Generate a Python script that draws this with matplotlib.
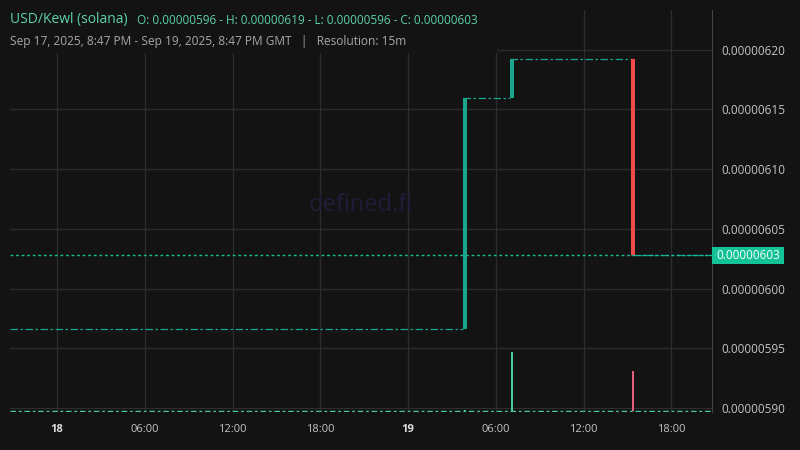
"""USD/Kewl (solana) 15m chart, dark theme, recreated with matplotlib."""

from datetime import datetime

import matplotlib

matplotlib.use("Agg")
import matplotlib.dates as mdates
import matplotlib.pyplot as plt
from matplotlib.patches import Rectangle
from matplotlib.ticker import FixedLocator, FuncFormatter

plt.rcParams["font.family"] = ["Open Sans", "DejaVu Sans"]

BG = "#131313"
GRID = "#2c2c2c"
UP = "#1aa68c"
DOWN = "#f04b4b"
UP_VOL = "#4cc8a0"
DOWN_VOL = "#e2607a"
LAST = "#13c296"

# window shown
T_START = datetime(2025, 9, 17, 20, 47)
T_END = datetime(2025, 9, 19, 20, 47)

# the three traded 15m candles
candle_times = [datetime(2025, 9, 19, 3, 45), datetime(2025, 9, 19, 7, 0),
                datetime(2025, 9, 19, 15, 15)]
opens = [5.966e-6, 6.16e-6, 6.1925e-6]
closes = [6.16e-6, 6.1925e-6, 6.028e-6]
volumes = [0.1, 5.9, 4.0]

y_ticks = [5.90e-6, 5.95e-6, 6.00e-6, 6.05e-6, 6.10e-6, 6.15e-6, 6.20e-6]
x_ticks = [datetime(2025, 9, 18, 0), datetime(2025, 9, 18, 6), datetime(2025, 9, 18, 12),
           datetime(2025, 9, 18, 18), datetime(2025, 9, 19, 0), datetime(2025, 9, 19, 6),
           datetime(2025, 9, 19, 12), datetime(2025, 9, 19, 18)]
x_labels = ["18", "06:00", "12:00", "18:00", "19", "06:00", "12:00", "18:00"]
last_price = 6.028e-6
last_label = "0.00000603"

W, H = 800, 450
fig = plt.figure(figsize=(8, 4.5), dpi=100, facecolor=BG)
ax = fig.add_axes([10 / W, 1 - 412 / H, 702 / W, 402 / H])
ax.set_facecolor(BG)

# volume overlay (twinx first: it moves the price ticks to the left)
vax = ax.twinx()
vax.set_ylim(-0.1, 40.1)
vax.axis("off")

ax.set_xlim(mdates.date2num(T_START), mdates.date2num(T_END))
ax.set_ylim(5.8967e-6, 6.2333e-6)
ax.xaxis.set_major_locator(FixedLocator(mdates.date2num(x_ticks)))
ax.xaxis.set_major_formatter(FuncFormatter(lambda v, p: x_labels[p] if p is not None and p < len(x_labels) else ""))
ax.yaxis.set_major_locator(FixedLocator(y_ticks))
ax.yaxis.set_major_formatter(FuncFormatter(lambda v, p: f"{v:.8f}"))
ax.yaxis.tick_right()
ax.grid(True, color=GRID, linewidth=1.0, zorder=0)
ax.set_axisbelow(True)
for side in ("top", "left", "bottom"):
    ax.spines[side].set_visible(False)
ax.spines["right"].set_color("#444444")
ax.tick_params(axis="both", length=0, colors="#c4c4c4")
ax.tick_params(axis="y", pad=7, labelsize=8.5, labelright=True, labelleft=False)
ax.tick_params(axis="x", pad=9, labelsize=8)
for lbl, txt in zip(ax.get_xticklabels(), x_labels):
    if ":" not in txt:
        lbl.set_fontweight("bold")
        lbl.set_color("#dddddd")

# watermark
ax.text(0.5, 0.515, "defined.fi", transform=ax.transAxes, ha="center", va="center",
        fontsize=17, color="#201d38", zorder=1)

# flat (no-trade) segments between candles
seg_x = [T_START] + candle_times
seg_x_end = candle_times + [T_END]
seg_y = [opens[0]] + closes
for xs, xe, yv in zip(seg_x, seg_x_end, seg_y):
    ax.plot([xs, xe], [yv, yv], color=UP, linewidth=0.9,
            linestyle=(0, (6, 2, 2, 2)), zorder=2)

# current price line
ax.axhline(last_price, color=LAST, linewidth=1.0, linestyle=(0, (2, 2)), zorder=2)

# candles
width = 15 / (24 * 60)
for t, o, c in zip(candle_times, opens, closes):
    col = UP if c >= o else DOWN
    ax.bar(mdates.date2num(t) + width / 2, c - o, bottom=o, width=width,
           color=col, linewidth=0, zorder=3)

# volume bars
vax.plot([T_START, T_END], [0, 0], color=UP_VOL, linewidth=1.0,
         linestyle=(0, (4, 2, 2, 2)))
for t, o, c, v in zip(candle_times, opens, closes, volumes):
    col = UP_VOL if c >= o else DOWN_VOL
    vax.bar(mdates.date2num(t) + width / 2, v, width=width * 0.5, color=col, linewidth=0)
vax.set_xlim(ax.get_xlim())

# last price tag (box in pixel terms, right of the price axis line)
y_pix = ax.transData.transform((0, last_price))[1]
fig.patches.append(Rectangle((712 / W, (y_pix - 8.5) / H), 72 / W, 17 / H,
                             transform=fig.transFigure, facecolor=LAST,
                             edgecolor="none", zorder=4))
fig.text(748 / W, y_pix / H, last_label, ha="center", va="center",
         fontsize=8.5, color="white", zorder=5)

# header block
fig.patches.append(Rectangle((0, 1 - 53 / H), 497 / W, 53 / H,
                             transform=fig.transFigure, facecolor=BG,
                             edgecolor="none", zorder=1))
fig.text(10 / W, 1 - 20 / H, "USD/Kewl (solana)", color="#5cd2a8",
         fontsize=10, va="center", ha="left", zorder=3)
fig.text(137 / W, 1 - 20 / H,
         "O: 0.00000596 - H: 0.00000619 - L: 0.00000596 - C: 0.00000603",
         color="#5cd2a8", fontsize=8.5, va="center", ha="left", zorder=3)
fig.text(10 / W, 1 - 41 / H,
         "Sep 17, 2025, 8:47 PM - Sep 19, 2025, 8:47 PM GMT   |   Resolution: 15m",
         color="#a8a8a8", fontsize=8.6, va="center", ha="left", zorder=3)

fig.savefig("out.png", dpi=100, facecolor=BG)
